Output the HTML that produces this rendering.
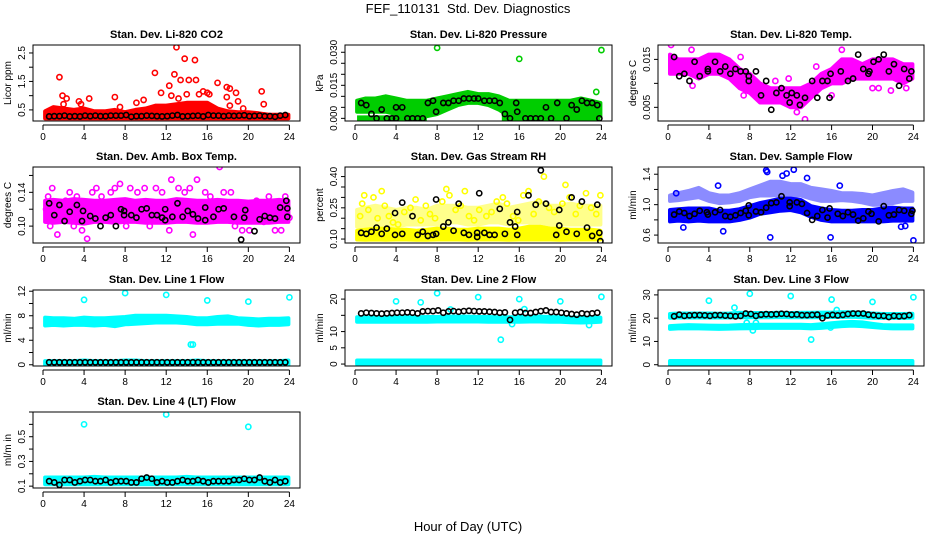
<!DOCTYPE html>
<html><head><meta charset="utf-8"><style>
html,body{margin:0;padding:0;background:#fff;}
svg{display:block;font-family:"Liberation Sans",sans-serif;}
</style></head><body>
<svg id="chart" width="936" height="540" viewBox="0 0 936 540" xmlns="http://www.w3.org/2000/svg">
<text x="468" y="13" text-anchor="middle" font-size="13">FEF_110131&#160; Std. Dev. Diagnostics</text>
<text x="468" y="531" text-anchor="middle" font-size="13">Hour of Day (UTC)</text>
</svg>
<script>
const bandHours=[0.2,1,2,3,4,5,6,7,8,9,10,11,12,13,14,15,16,17,18,19,20,21,22,23,23.9];
const blackHours=[0.6,1.1,1.6,2.1,2.6,3.1,3.6,4.1,4.6,5.1,5.6,6.1,6.6,7.1,7.6,8.1,8.6,9.1,9.6,10.1,10.6,11.1,11.6,12.1,12.6,13.1,13.6,14.1,14.6,15.1,15.6,16.1,16.6,17.1,17.6,18.1,18.6,19.1,19.6,20.1,20.6,21.1,21.6,22.1,22.6,23.1,23.6];
const xTicks=[0,4,8,12,16,20,24];
// P1 CO2
const co2Lo=[0.2,0.2,0.2,0.2,0.2,0.2,0.2,0.2,0.2,0.2,0.2,0.2,0.2,0.2,0.2,0.2,0.2,0.2,0.2,0.2,0.2,0.2,0.2,0.2,0.2];
const co2Hi=[0.45,0.6,0.55,0.5,0.55,0.45,0.45,0.5,0.42,0.5,0.55,0.65,0.65,0.7,0.75,0.75,0.75,0.55,0.45,0.42,0.42,0.38,0.33,0.33,0.33];
const co2PtH=[1.6,1.9,2.3,4.5,3.5,7,10.9,11.5,12.3,12.8,13,13.4,13.8,14.2,14.8,14.9,15.6,16,16.2,17,17.9,18.2,18.8,17.9,19,21.3,21.5,9.8,9.1,12.5,13.2,15.2,18.2,19.5,14,7.5,3.7,2.0];
const co2PtV=[1.65,1.0,0.9,0.9,0.8,0.95,1.8,1.1,1.35,1.75,2.7,1.55,2.3,1.55,2.25,1.55,1.15,1.1,1.05,1.45,1.3,1.25,1.1,0.95,0.8,1.15,0.7,0.85,0.75,1.0,0.9,1.05,0.65,0.55,1.05,0.6,0.7,0.7];
const co2Black=[0.27,0.28,0.28,0.3,0.27,0.28,0.27,0.3,0.28,0.3,0.28,0.28,0.3,0.3,0.3,0.32,0.26,0.28,0.28,0.3,0.29,0.28,0.27,0.28,0.3,0.32,0.27,0.28,0.29,0.3,0.27,0.32,0.3,0.3,0.28,0.3,0.29,0.3,0.31,0.28,0.29,0.3,0.28,0.28,0.26,0.3,0.32];
// P2 pressure
const presLo=[0.003,0.003,0.003,0.003,0.002,0.001,0.001,0.001,0.002,0.004,0.006,0.007,0.007,0.006,0.004,0.001,0.001,0.001,0.001,0.001,0.001,0.001,0.001,0.001,0.001];
const presHi=[0.008,0.009,0.009,0.010,0.009,0.008,0.008,0.008,0.009,0.010,0.011,0.012,0.011,0.011,0.010,0.008,0.008,0.008,0.008,0.008,0.008,0.008,0.009,0.008,0.007];
const presZeroH=[0.2,7.0,14.3,23.9];
const presPtH=[8,16,24,23.5];
const presPtV=[0.032,0.027,0.031,0.012];
const presBlkH=[0.6,1.1,1.6,2.1,2.6,3.1,3.6,4,4,4.6,5.1,5.6,6.1,6.6,7.1,7.6,7.9,8.6,9.1,9.6,10.1,10.6,11.1,11.6,12.0,12.6,13.1,13.6,14.1,14.6,15.1,15.7,15.8,16.6,17.1,17.6,18.1,18.6,19.1,19.7,20.6,21.1,21.6,22.1,22.6,23.1,23.6,23.8];
const presBlkV=[0.007,0.006,0.002,0,0.004,0,0,0.005,0,0.005,0,0,0,0,0.007,0.008,0.003,0.007,0.007,0.008,0.008,0.009,0.009,0.009,0.009,0.008,0.008,0.008,0.007,0.002,0,0.007,0.003,0,0,0,0,0.005,0,0.007,0,0.006,0.004,0.008,0.007,0.007,0.006,0];
// P3 Li temp
const ltLo=[0.012,0.012,0.012,0.011,0.012,0.012,0.011,0.009,0.008,0.006,0.006,0.006,0.005,0.005,0.007,0.009,0.010,0.010,0.011,0.011,0.011,0.011,0.011,0.010,0.011];
const ltHi=[0.016,0.015,0.015,0.015,0.016,0.016,0.015,0.013,0.012,0.010,0.009,0.009,0.009,0.009,0.010,0.012,0.013,0.015,0.015,0.014,0.015,0.015,0.015,0.014,0.014];
const ltPtH=[0.3,2.4,2.3,7.4,7.1,13.4,12.6,11.8,20,20.6,21.8,23.3,17,14.5,16,10.5];
const ltPtV=[0.018,0.0095,0.017,0.0075,0.0155,0.0025,0.004,0.011,0.009,0.009,0.0085,0.009,0.017,0.0135,0.0075,0.0105];
const ltBlkH=[0.6,1.1,1.6,2.1,2.6,3.1,3.9,3.9,4.6,5.1,5.6,6.1,6.6,7.1,7.6,7.9,7.9,8.6,9.1,9.6,10.1,10.6,11.1,11.6,11.9,12.1,12.6,12.9,13.4,14.1,14.6,15.1,15.6,15.8,15.9,16.9,17.6,18.1,18.6,19.1,19.6,19.7,20.1,20.6,21.1,21.6,22.1,22.6,23.1,23.6,23.8];
const ltBlkV=[0.0155,0.0115,0.012,0.0105,0.0145,0.0115,0.013,0.0125,0.0145,0.0125,0.0135,0.012,0.013,0.0125,0.0125,0.0105,0.0115,0.0125,0.0075,0.0105,0.0045,0.008,0.009,0.0075,0.006,0.008,0.0075,0.0055,0.007,0.0105,0.007,0.0105,0.0105,0.007,0.012,0.0125,0.0105,0.011,0.016,0.013,0.012,0.0125,0.0145,0.015,0.016,0.0125,0.014,0.0095,0.013,0.011,0.0125];
// P4 amb box
const abLo=[0.105,0.104,0.105,0.104,0.103,0.105,0.105,0.104,0.105,0.105,0.104,0.104,0.104,0.105,0.105,0.104,0.104,0.105,0.105,0.104,0.104,0.104,0.104,0.105,0.105];
const abHi=[0.13,0.131,0.13,0.132,0.131,0.13,0.13,0.131,0.132,0.13,0.131,0.13,0.13,0.132,0.131,0.13,0.13,0.131,0.13,0.13,0.129,0.13,0.13,0.131,0.13];
const abPtH=[0.3,0.5,0.7,0.9,1.4,1.8,2.2,2.6,3.0,3.3,3.8,4.3,4.8,5.2,5.7,6.3,6.6,7.0,7.5,8.1,8.5,9.2,9.9,10.4,11.0,11.6,12.3,12.5,13.2,13.8,14.3,14.6,15.0,15.8,16.3,17.2,17.6,18.3,18.7,19.4,20.1,20.8,21.5,22.0,22.6,23.2,23.6,24];
const abPtV=[0.12,0.135,0.10,0.145,0.09,0.115,0.13,0.14,0.10,0.135,0.095,0.085,0.14,0.145,0.135,0.11,0.14,0.145,0.15,0.10,0.145,0.14,0.145,0.10,0.145,0.14,0.095,0.155,0.145,0.14,0.145,0.09,0.155,0.14,0.135,0.17,0.14,0.14,0.10,0.095,0.095,0.13,0.105,0.135,0.095,0.095,0.135,0.11];
const abBlkH=[0.6,1.1,1.6,2.1,2.6,3.3,3.8,3.9,4.6,5.1,5.6,6.1,6.6,7.1,7.6,7.9,7.9,8.6,9.1,9.6,10.1,10.6,11.1,11.6,11.9,11.9,12.6,13.1,13.6,14.1,14.6,15.1,15.8,15.8,16.6,17.1,17.6,18.6,19.3,19.6,19.7,20.6,21.1,21.6,22.1,22.6,23.1,23.7,23.8,23.8];
const abBlkV=[0.127,0.113,0.125,0.106,0.117,0.125,0.106,0.118,0.112,0.109,0.1,0.11,0.113,0.1,0.12,0.118,0.113,0.113,0.11,0.12,0.121,0.113,0.113,0.11,0.12,0.107,0.111,0.127,0.111,0.118,0.114,0.109,0.122,0.107,0.111,0.12,0.121,0.111,0.084,0.11,0.119,0.094,0.108,0.112,0.11,0.109,0.122,0.13,0.121,0.111];
// P5 RH
const rhLo=[0.098,0.097,0.098,0.097,0.098,0.098,0.097,0.097,0.098,0.098,0.098,0.097,0.098,0.098,0.098,0.097,0.098,0.098,0.098,0.098,0.097,0.098,0.098,0.098,0.098];
const rhHi=[0.14,0.145,0.15,0.15,0.145,0.145,0.14,0.145,0.15,0.15,0.145,0.145,0.15,0.15,0.15,0.145,0.15,0.16,0.16,0.15,0.15,0.145,0.145,0.145,0.14];
const rhSpLo=[0.16,0.16,0.17,0.17,0.16,0.17,0.17,0.17,0.17,0.18,0.18,0.17,0.17,0.18,0.18,0.17,0.18,0.18,0.18,0.17,0.17,0.17,0.17,0.17,0.17];
const rhSpHi=[0.24,0.25,0.26,0.25,0.24,0.25,0.25,0.24,0.26,0.26,0.26,0.25,0.25,0.26,0.27,0.25,0.26,0.27,0.28,0.26,0.26,0.27,0.26,0.26,0.26];
const rhPtH=[0.5,0.7,0.9,1.3,1.8,2.2,2.6,2.9,3.3,3.7,4.2,4.8,5.4,5.9,6.4,6.9,7.3,7.8,8.5,8.9,9.2,9.8,10.3,10.7,11.1,11.6,12.1,12.8,13.3,13.8,14.4,14.8,15.4,15.9,16.4,16.9,17.4,17.9,18.4,18.9,19.4,20.2,20.5,20.9,21.5,21.9,22.5,23.0,23.5,23.9];
const rhPtV=[0.21,0.27,0.31,0.24,0.30,0.20,0.33,0.26,0.21,0.18,0.17,0.23,0.25,0.29,0.19,0.26,0.22,0.20,0.28,0.34,0.31,0.24,0.26,0.33,0.21,0.19,0.24,0.21,0.23,0.28,0.30,0.27,0.21,0.19,0.31,0.33,0.22,0.28,0.40,0.25,0.23,0.27,0.36,0.30,0.22,0.26,0.32,0.25,0.22,0.31];
const rhBlkH=[0.6,1.1,1.6,2.1,2.6,3.1,3.9,3.9,4.6,4.6,5.6,6.1,6.6,7.1,7.6,7.9,7.9,8.6,9.1,9.6,10.1,10.6,11.1,11.9,11.9,12.1,12.6,13.1,13.6,14.1,14.6,15.1,15.6,15.8,15.8,16.9,17.6,18.1,18.6,19.6,19.9,19.9,20.6,21.1,21.6,22.1,22.6,23.1,23.6,23.8,23.9];
const rhBlkV=[0.13,0.125,0.135,0.155,0.125,0.15,0.225,0.12,0.275,0.125,0.21,0.12,0.135,0.115,0.12,0.29,0.125,0.16,0.18,0.14,0.27,0.13,0.12,0.13,0.11,0.32,0.13,0.12,0.12,0.245,0.125,0.18,0.16,0.23,0.12,0.31,0.265,0.43,0.27,0.12,0.24,0.165,0.135,0.3,0.125,0.28,0.155,0.115,0.265,0.13,0.09];
// P6 sample flow
const sfLo=[0.78,0.79,0.78,0.79,0.78,0.78,0.78,0.8,0.83,0.88,0.9,0.92,0.93,0.9,0.84,0.8,0.78,0.78,0.78,0.78,0.78,0.78,0.79,0.79,0.79];
const sfHi=[0.93,0.94,0.95,0.95,0.95,0.92,0.92,0.94,0.98,1.02,1.05,1.08,1.08,1.06,0.98,0.95,0.93,0.92,0.92,0.93,0.93,0.95,0.96,0.95,0.95];
const sfUpLo=[1.05,1.06,1.08,1.1,1.05,1.02,1.03,1.05,1.1,1.12,1.12,1.13,1.12,1.12,1.08,1.05,1.05,1.06,1.05,1.03,1.0,1.0,1.02,1.05,1.05];
const sfUpHi=[1.12,1.15,1.18,1.22,1.15,1.12,1.12,1.15,1.2,1.25,1.3,1.3,1.27,1.27,1.22,1.2,1.18,1.15,1.15,1.14,1.12,1.15,1.18,1.2,1.16];
const sfPtH=[0.8,1.5,5.4,4.9,9.6,9.7,10,11.2,11.6,12.3,15.9,24,22.8,23.2,16.8,13.6];
const sfPtV=[1.15,0.7,0.65,1.25,1.45,1.43,0.57,1.38,1.41,1.46,0.57,0.53,0.71,0.72,1.25,1.35];
const sfBlkH=[0.6,1.1,1.6,2.1,2.6,3.1,3.8,3.9,4.6,5.1,5.6,6.1,6.6,7.1,7.6,7.9,7.9,8.6,9.1,9.6,10.1,10.6,11.1,11.9,11.9,12.6,13.1,13.6,14.1,14.6,15.1,15.6,15.8,16.6,17.1,17.6,18.1,18.6,19.1,19.6,19.9,20.6,21.1,21.6,22.1,22.6,23.1,23.8,23.9];
const sfBlkV=[0.87,0.91,0.89,0.85,0.88,0.92,0.9,0.87,0.9,0.93,0.85,0.84,0.86,0.89,0.92,0.99,0.86,0.91,0.9,0.96,1.02,1.03,1.11,1.03,0.98,1.03,1.01,0.89,0.8,0.85,0.93,0.83,0.95,0.88,0.85,0.9,0.87,0.79,0.82,0.91,0.88,0.78,0.98,0.86,0.87,0.93,0.92,0.88,0.92];
// P7 line 1
const l1Lo=[6.4,6.5,6.4,6.5,6.5,6.4,6.5,6.3,6.6,6.7,6.8,6.9,6.9,6.9,6.8,6.6,6.6,6.7,6.7,6.7,6.5,6.4,6.5,6.5,6.6];
const l1Hi=[7.7,7.6,7.6,7.5,7.7,7.6,7.6,7.7,7.8,8,8,8,8,7.9,7.8,7.6,7.6,7.8,7.9,7.6,7.5,7.4,7.5,7.5,7.6];
const l1ZLo=[0,0,0,0,0,0,0,0,0,0,0,0,0,0,0,0,0,0,0,0,0,0,0,0,0];
const l1ZHi=[0.6,0.6,0.6,0.6,0.7,0.6,0.6,0.6,0.7,0.7,0.6,0.6,0.6,0.6,0.6,0.7,0.6,0.6,0.6,0.6,0.6,0.6,0.6,0.6,0.7];
const l1PtH=[4,8,12,16,20,24,14.4,14.6];
const l1PtV=[10.6,11.7,11.4,10.5,10.3,11,3.3,3.3];
const l1Black=[0.4,0.4,0.4,0.4,0.4,0.4,0.4,0.4,0.4,0.4,0.4,0.4,0.4,0.4,0.4,0.4,0.4,0.4,0.4,0.4,0.4,0.4,0.4,0.4,0.4,0.4,0.4,0.4,0.4,0.4,0.4,0.4,0.4,0.4,0.4,0.4,0.4,0.4,0.4,0.4,0.4,0.4,0.4,0.4,0.4,0.4,0.4];
// P8 line 2
const l2Lo=[13,13,13,13,13,13,13,13,13.1,13.1,13.1,13.1,13.1,13,13,13,13,13.1,13.1,13,13,12.9,12.8,12.9,13];
const l2Hi=[14.4,14.3,14.3,14.3,14.4,14.4,14.4,14.5,14.5,14.6,14.6,14.6,14.5,14.5,14.4,14.4,14.5,14.6,14.6,14.5,14.4,14.3,14.3,14.3,14.3];
const l2ZLo=[0,0,0,0,0,0,0,0,0,0,0,0,0,0,0,0,0,0,0,0,0,0,0,0,0];
const l2ZHi=[1.1,1.1,1.1,1.1,1.1,1.1,1.1,1.1,1.1,1.1,1.1,1.1,1.1,1.1,1.1,1.1,1.1,1.1,1.1,1.1,1.1,1.1,1.1,1.1,1.1];
const l2PtH=[4,6.4,8,12,16,20,24,14.2,15.3,22.8,16.5,9.3];
const l2PtV=[19.3,19,21.8,20.6,20,19.3,20.7,7.5,12.3,12,16.9,16.8];
const l2Black=[15.6,15.8,15.7,15.6,15.5,15.6,15.7,15.8,15.8,15.9,15.8,15.6,16.2,16.3,16.3,16.5,15.8,16.2,16.3,16.1,16.3,16.4,16.3,16.2,16.2,16.1,16.0,15.8,15.9,13.6,15.8,16.0,15.7,15.7,16.0,16.3,16.5,16.0,16.0,15.8,15.6,15.4,15.2,15.6,15.4,15.6,15.8];
// P9 line 3
const l3Lo=[15.4,15.6,15.6,15.6,15.5,15.4,15.5,15.6,15.7,15.8,15.8,15.8,15.8,15.8,15.6,15.8,16.2,16.6,16.8,16.6,16.2,15.8,15.6,15.6,15.6];
const l3Hi=[16.6,16.8,17,16.9,16.8,16.7,16.8,17,17.1,17.2,17.2,17.2,17.2,17.2,17,17.4,17.8,18.2,18.4,18.2,17.6,17,16.9,16.9,16.9];
const l3TLo=[20.2,20.3,20.3,20.3,20.3,20.3,20.3,20.4,20.4,20.4,20.4,20.5,20.4,20.4,20.4,20.4,20.5,20.5,20.6,20.4,20.2,20.1,20.1,20.1,20.2];
const l3THi=[21.8,22,22,22,22,21.9,22,22.3,22.2,22.2,22.2,22.3,22.2,22.3,22.3,22.4,22.4,22.5,22.5,22.3,22,21.8,21.8,21.8,21.9];
const l3ZLo=[0,0,0,0,0,0,0,0,0,0,0,0,0,0,0,0,0,0,0,0,0,0,0,0,0];
const l3ZHi=[1.6,1.6,1.6,1.6,1.6,1.6,1.6,1.6,1.6,1.6,1.6,1.6,1.6,1.6,1.6,1.6,1.6,1.6,1.6,1.6,1.6,1.6,1.6,1.6,1.6];
const l3PtH=[4,8,12,16,20,24,6.5,16.5,14,8.3,7.7,8.6,15.9];
const l3PtV=[27.5,30.5,29.5,28,27,29,24.5,23.5,10.8,14.7,18,18,16];
const l3Black=[20.8,21.5,21,21.2,21.3,21.3,21.2,21,21.3,21.3,21.1,21,20.8,21,22,21.8,21,21.5,21.7,21.6,21.7,21.9,21.8,21.5,21.6,21.3,21.3,21.4,21.5,20,21.2,21.4,21.2,21.4,21.8,22,22,22,21.5,21.3,21,21,20.5,21,20.8,20.9,21.3];
// P10 line 4
const l4Lo=[0.115,0.115,0.115,0.115,0.115,0.115,0.115,0.115,0.115,0.115,0.115,0.115,0.115,0.115,0.115,0.115,0.115,0.115,0.115,0.115,0.115,0.115,0.115,0.115,0.115];
const l4Hi=[0.17,0.17,0.17,0.17,0.17,0.175,0.17,0.17,0.17,0.17,0.17,0.17,0.17,0.17,0.175,0.17,0.17,0.17,0.17,0.17,0.17,0.17,0.17,0.17,0.17];
const l4PtH=[4,12,20];
const l4PtV=[0.6,0.68,0.58];
const l4Black=[0.14,0.13,0.11,0.15,0.15,0.13,0.14,0.15,0.15,0.14,0.14,0.15,0.13,0.14,0.14,0.14,0.13,0.13,0.16,0.17,0.16,0.13,0.14,0.13,0.13,0.14,0.15,0.14,0.14,0.15,0.14,0.13,0.14,0.14,0.14,0.14,0.15,0.15,0.16,0.15,0.15,0.17,0.14,0.13,0.15,0.13,0.14];

const colLeft=[33,345,658], colRight=[300,612,924], rowTop=[45,167,290,412], boxH=76;
const panels=[
 {id:'co2',col:0,row:0,title:'Stan. Dev. Li-820 CO2',ylab:'Licor ppm',ymin:0.11,ymax:2.78,ticks:[0.5,1,1.5,2,2.5],labs:['0.5','1.5','2.5'],color:'#ff0000',
  bands:[[co2Lo,co2Hi,1]],pts:[co2PtH,co2PtV],blk:[blackHours,co2Black]},
 {id:'pressure',col:1,row:0,title:'Stan. Dev. Li-820 Pressure',ylab:'kPa',ymin:-0.0012,ymax:0.0333,ticks:[0,0.005,0.01,0.015,0.02,0.025,0.03],labs:['0.000','0.015','0.030'],color:'#00cd00',
  bands:[[presLo,presHi,1]],zero:presZeroH,pts:[presPtH,presPtV],blk:[presBlkH,presBlkV]},
 {id:'li-temp',col:2,row:0,title:'Stan. Dev. Li-820 Temp.',ylab:'degrees C',ymin:0.00215,ymax:0.018,ticks:[0.005,0.01,0.015],labs:['0.005','0.015'],color:'#ff00ff',
  bands:[[ltLo,ltHi,1]],pts:[ltPtH,ltPtV],blk:[ltBlkH,ltBlkV]},
 {id:'amb-box-temp',col:0,row:1,title:'Stan. Dev. Amb. Box Temp.',ylab:'degrees C',ymin:0.08,ymax:0.17,ticks:[0.1,0.12,0.14,0.16],labs:['0.10','0.14'],color:'#ff00ff',
  bands:[[abLo,abHi,1]],pts:[abPtH,abPtV],blk:[abBlkH,abBlkV]},
 {id:'gas-rh',col:1,row:1,title:'Stan. Dev. Gas Stream RH',ylab:'percent',ymin:0.081,ymax:0.446,ticks:[0.1,0.15,0.2,0.25,0.3,0.35,0.4],labs:['0.10','0.25','0.40'],color:'#ffff00',
  bands:[[rhSpLo,rhSpHi,0.45],[rhLo,rhHi,1]],pts:[rhPtH,rhPtV],blk:[rhBlkH,rhBlkV]},
 {id:'sample-flow',col:2,row:1,title:'Stan. Dev. Sample Flow',ylab:'ml/min',ymin:0.496,ymax:1.495,ticks:[0.6,0.8,1.0,1.2,1.4],labs:['0.6','1.0','1.4'],color:'#0000ff',
  bands:[[sfUpLo,sfUpHi,0.45],[sfLo,sfHi,1]],pts:[sfPtH,sfPtV],blk:[sfBlkH,sfBlkV]},
 {id:'line1-flow',col:0,row:2,title:'Stan. Dev. Line 1 Flow',ylab:'ml/min',ymin:-0.2,ymax:12.2,ticks:[0,2,4,6,8,10,12],labs:['0','4','8','12'],color:'#00ffff',
  bands:[[l1Lo,l1Hi,1],[l1ZLo,l1ZHi,1]],pts:[l1PtH,l1PtV],blk:[blackHours,l1Black]},
 {id:'line2-flow',col:1,row:2,title:'Stan. Dev. Line 2 Flow',ylab:'ml/min',ymin:-0.6,ymax:22.8,ticks:[0,5,10,15,20],labs:['0','5','10','20'],color:'#00ffff',
  bands:[[l2Lo,l2Hi,1],[l2ZLo,l2ZHi,1]],pts:[l2PtH,l2PtV],blk:[blackHours,l2Black]},
 {id:'line3-flow',col:2,row:2,title:'Stan. Dev. Line 3 Flow',ylab:'ml/min',ymin:-0.55,ymax:32.1,ticks:[0,10,20,30],labs:['0','10','20','30'],color:'#00ffff',
  bands:[[l3Lo,l3Hi,1],[l3TLo,l3THi,1],[l3ZLo,l3ZHi,1]],pts:[l3PtH,l3PtV],blk:[blackHours,l3Black]},
 {id:'line4-flow',col:0,row:3,title:'Stan. Dev. Line 4 (LT) Flow',ylab:'ml/m in',ymin:0.085,ymax:0.70,ticks:[0.1,0.2,0.3,0.4,0.5,0.6,0.7],labs:['0.1','0.3','0.5'],color:'#00ffff',
  bands:[[l4Lo,l4Hi,1]],pts:[l4PtH,l4PtV],blk:[blackHours,l4Black]}
];
const NS='http://www.w3.org/2000/svg';
const svg=document.getElementById('chart');
function mk(tag,attrs,parent){const e=document.createElementNS(NS,tag);for(const k in attrs)e.setAttribute(k,attrs[k]);(parent||svg).appendChild(e);return e;}
panels.forEach(p=>{
  const L=colLeft[p.col],R=colRight[p.col],T=rowTop[p.row],B=T+boxH;
  const xs=h=>L+10+(h/24)*(R-L-20.6);
  const ys=v=>B-(v-p.ymin)/(p.ymax-p.ymin)*boxH;
  const g=mk('g',{});
  
  
  const cp=mk('clipPath',{id:'clip-'+p.id},g);
  mk('rect',{x:L,y:T,width:R-L,height:boxH},cp);
  const plot=mk('g',{'clip-path':'url(#clip-'+p.id+')'},g);
  
  
  p.bands.forEach(b=>{
    const lo=b[0],hi=b[1];let d='';
    bandHours.forEach((h,i)=>{d+=(i?'L':'M')+xs(h).toFixed(1)+','+ys(hi[i]).toFixed(1);});
    for(let i=bandHours.length-1;i>=0;i--)d+='L'+xs(bandHours[i]).toFixed(1)+','+ys(lo[i]).toFixed(1);
    const pa=mk('path',{d:d+'Z',fill:p.color,stroke:p.color,'stroke-width':4,'stroke-linejoin':'round',opacity:b[2]},plot);
    
    
  });
  if(p.zero){
    for(let i=0;i<p.zero.length;i+=2){
      const ln=mk('line',{x1:xs(p.zero[i]),x2:xs(p.zero[i+1]),y1:ys(0),y2:ys(0),stroke:p.color,'stroke-width':6},plot);
      
      
    }
  }
  p.pts[0].forEach((h,i)=>{
    const c=mk('circle',{cx:xs(h),cy:ys(p.pts[1][i]),r:2.6,fill:'none',stroke:p.color,'stroke-width':1.6},plot);
    
    
  });
  p.blk[0].forEach((h,i)=>{
    const c=mk('circle',{cx:xs(h),cy:ys(p.blk[1][i]),r:2.6,fill:'none',stroke:'#000','stroke-width':1.6},plot);
    
    
  });
  const box=mk('rect',{x:L,y:T,width:R-L,height:boxH,fill:'none',stroke:'#000','stroke-width':1},g);
  
  
  const t=mk('text',{x:(L+R)/2,y:T-7,'text-anchor':'middle','font-size':11,'font-weight':'bold'},g);
  t.textContent=p.title;
  
  
  const ax=mk('line',{x1:xs(0),x2:xs(24),y1:B+4,y2:B+4,stroke:'#000','stroke-width':1},g);
  
  
  xTicks.forEach(h=>{
    mk('line',{x1:xs(h),x2:xs(h),y1:B+4,y2:B+9,stroke:'#000'},g);
    const tl=mk('text',{x:xs(h),y:B+19,'text-anchor':'middle','font-size':10},g);
    tl.textContent=h;
    
    
  });
  p.ticks.forEach(v=>{mk('line',{x1:L-4,x2:L,y1:ys(v),y2:ys(v),stroke:'#000'},g);});
  p.labs.forEach(s=>{
    const y=ys(parseFloat(s));
    const tl=mk('text',{x:L-8,y:y,'text-anchor':'middle','font-size':10,transform:'rotate(-90 '+(L-8)+' '+y+')'},g);
    tl.textContent=s;
    
    
  });
  const yl=mk('text',{x:L-22,y:T+boxH/2,'text-anchor':'middle','font-size':10,transform:'rotate(-90 '+(L-22)+' '+(T+boxH/2)+')'},g);
  yl.textContent=p.ylab;
  
  
});
</script>
</body></html>
